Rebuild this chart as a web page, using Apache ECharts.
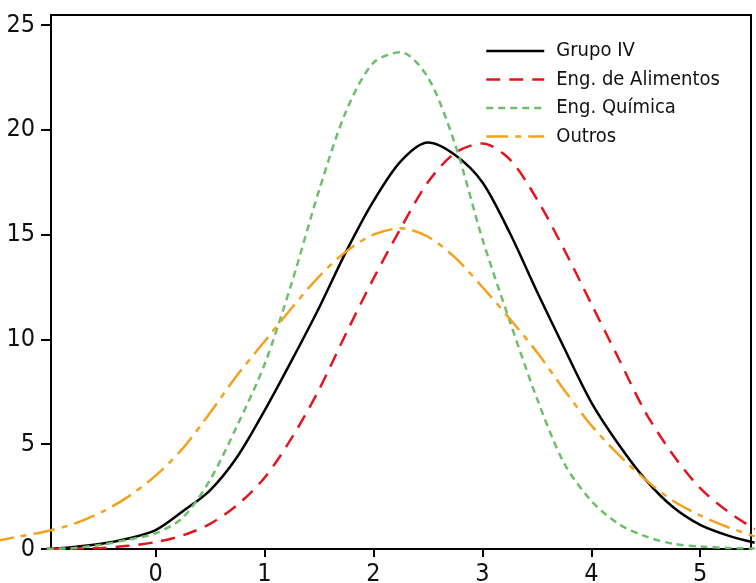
<!DOCTYPE html>
<html>
<head>
<meta charset="utf-8">
<script src="https://cdn.jsdelivr.net/npm/echarts@6/dist/echarts.min.js"></script>
<style>
html,body{margin:0;padding:0;background:#fff;}
#c{width:756px;height:583px;}
</style>
</head>
<body>
<div id="c"></div>
<script>
var xValues = [-1.5,-1.25,-1.0,-0.75,-0.5,-0.25,0,0.25,0.5,0.75,1.0,1.25,1.5,1.75,2.0,2.25,2.5,2.75,3.0,3.25,3.5,3.75,4.0,4.25,4.5,4.75,5.0,5.25,5.5];
var grupoIV   = [null,null,0.0,0.1,0.25,0.5,0.9,1.8,2.8,4.4,6.6,9.0,11.5,14.2,16.6,18.5,19.4,18.8,17.5,15.1,12.3,9.6,7.0,5.0,3.3,2.0,1.15,0.65,0.3];
var engAlim   = [null,null,0.0,0.02,0.05,0.15,0.33,0.65,1.2,2.1,3.4,5.3,7.6,10.3,12.9,15.3,17.5,18.9,19.35,18.6,16.7,14.3,11.7,9.1,6.5,4.5,2.9,1.8,0.95];
var engQuim   = [null,null,0.0,0.05,0.2,0.45,0.75,1.5,3.3,5.9,8.8,12.7,17.1,20.9,23.2,23.7,22.5,19.3,14.8,10.9,7.2,4.1,2.3,1.2,0.6,0.25,0.12,0.05,0.02];
var outros    = [0.35,0.6,0.85,1.2,1.75,2.5,3.5,4.8,6.5,8.3,9.9,11.5,13.0,14.2,15.0,15.3,14.9,13.9,12.5,11.0,9.4,7.6,5.9,4.5,3.3,2.3,1.6,1.05,0.6];
var seriesNames = ['Grupo IV','Eng. de Alimentos','Eng. Química','Outros'];
var xTicks = [0,1,2,3,4,5];
var yTicks = [0,5,10,15,20,25];

function pairs(ys){ return xValues.map(function(x,i){ return [x, ys[i]]; }); }

var FONT = "'DejaVu Sans Condensed', 'DejaVu Sans', sans-serif";
var W = 756;
// pixel scale of the reference x axis (px per unit) and position of x=0
var PX_PER_UNIT = 108.92, X0 = 155.6;
var frameLeft = 51, frameRight = 751;
var chart = echarts.init(document.getElementById('c'), null, {renderer:'canvas'});
chart.setOption({
  animation:false,
  backgroundColor:'#ffffff',
  grid:[
    {left:frameLeft, right:W-frameRight, top:15, bottom:34, show:true, borderColor:'#000', borderWidth:2,
     backgroundColor:'transparent', containLabel:false, outerBoundsMode:'none'},
    {left:0, right:0, top:15, bottom:34, show:false, containLabel:false, outerBoundsMode:'none'}
  ],
  legend:{
    orient:'vertical', left:480, top:36, itemWidth:58, itemHeight:20, itemGap:8.5,
    data:seriesNames,
    itemStyle:{opacity:0},
    lineStyle:{width:2.5},
    textStyle:{fontFamily:FONT, fontSize:20, color:'#111', padding:[0,0,0,7]}
  },
  xAxis:[{
    gridIndex:0, type:'value',
    min:(frameLeft-X0)/PX_PER_UNIT, max:(frameRight-X0)/PX_PER_UNIT,
    axisLine:{show:true, onZero:false, lineStyle:{color:'#000', width:2}},
    axisTick:{show:true, length:8, inside:false, customValues:xTicks, lineStyle:{color:'#000', width:2}},
    axisLabel:{customValues:xTicks, fontFamily:FONT, fontSize:25, color:'#111', margin:13},
    splitLine:{show:false}
  },{
    gridIndex:1, type:'value', show:false,
    min:(0-X0)/PX_PER_UNIT, max:(W-X0)/PX_PER_UNIT,
    splitLine:{show:false}
  }],
  yAxis:[{
    gridIndex:0, type:'value', min:0, max:25.48,
    axisLine:{show:true, onZero:false, lineStyle:{color:'#000', width:2}},
    axisTick:{show:true, length:10, inside:false, customValues:yTicks, lineStyle:{color:'#000', width:2}},
    axisLabel:{customValues:yTicks, fontFamily:FONT, fontSize:25, color:'#111', margin:16},
    splitLine:{show:false}
  },{
    gridIndex:1, type:'value', show:false, min:0, max:25.48,
    splitLine:{show:false}
  }],
  series:[
    {name:seriesNames[0], type:'line', xAxisIndex:1, yAxisIndex:1, data:pairs(grupoIV), smooth:0.3, symbol:'none',
     lineStyle:{color:'#000', width:2.5, type:'solid'}, itemStyle:{color:'#000'}},
    {name:seriesNames[1], type:'line', xAxisIndex:1, yAxisIndex:1, data:pairs(engAlim), smooth:0.3, symbol:'none',
     lineStyle:{color:'#e3161f', width:2.5, type:[14,9]}, itemStyle:{color:'#e3161f'}},
    {name:seriesNames[2], type:'line', xAxisIndex:1, yAxisIndex:1, data:pairs(engQuim), smooth:0.3, symbol:'none',
     lineStyle:{color:'#6cc06c', width:2.5, type:[7,5]}, itemStyle:{color:'#6cc06c'}},
    {name:seriesNames[3], type:'line', xAxisIndex:1, yAxisIndex:1, data:pairs(outros), smooth:0.3, symbol:'none',
     lineStyle:{color:'#f4a21d', width:2.5, type:[22,7,6,7]}, itemStyle:{color:'#f4a21d'}}
  ]
});
</script>
</body>
</html>
